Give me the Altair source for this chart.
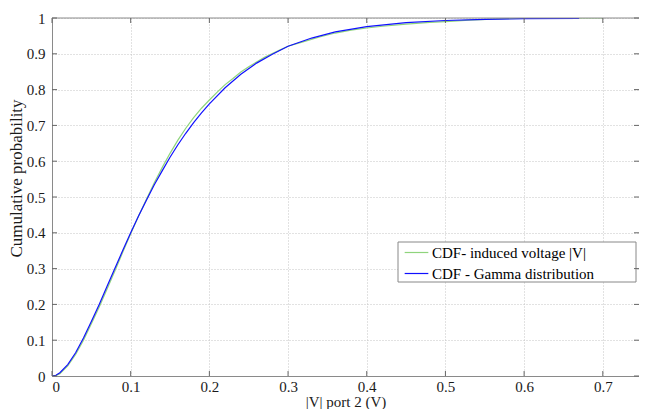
import altair as alt
import pandas as pd

# ---- data ----
x_emp = [0, 0.005, 0.01, 0.02, 0.03, 0.04, 0.05, 0.06, 0.07, 0.08, 0.09, 0.10,
         0.11, 0.12, 0.13, 0.14, 0.15, 0.16, 0.17, 0.18, 0.19, 0.20, 0.21, 0.22,
         0.23, 0.24, 0.25, 0.26, 0.27, 0.28, 0.29, 0.30, 0.32, 0.34, 0.36, 0.38,
         0.40, 0.42, 0.45, 0.48, 0.50, 0.53, 0.56, 0.60, 0.65, 0.70]
p_emp = [0, 0.001, 0.006, 0.028, 0.060, 0.100, 0.146, 0.193, 0.243, 0.294, 0.346, 0.397,
         0.447, 0.494, 0.540, 0.582, 0.622, 0.659, 0.692, 0.722, 0.748, 0.771, 0.793, 0.814,
         0.831, 0.849, 0.864, 0.877, 0.890, 0.901, 0.911, 0.921, 0.934, 0.947, 0.958, 0.966,
         0.972, 0.977, 0.983, 0.988, 0.990, 0.994, 0.997, 0.999, 1.0, 1.0]

x_gam = [0, 0.005, 0.01, 0.02, 0.03, 0.04, 0.05, 0.06, 0.07, 0.08, 0.09, 0.10,
         0.11, 0.12, 0.13, 0.14, 0.15, 0.16, 0.17, 0.18, 0.19, 0.20, 0.22, 0.24,
         0.26, 0.28, 0.30, 0.33, 0.36, 0.40, 0.45, 0.50, 0.55, 0.60, 0.67]
p_gam = [0, 0.002, 0.009, 0.032, 0.065, 0.106, 0.152, 0.200, 0.251, 0.301, 0.351, 0.400,
         0.447, 0.491, 0.534, 0.573, 0.611, 0.646, 0.678, 0.708, 0.735, 0.760, 0.805, 0.843,
         0.874, 0.899, 0.921, 0.944, 0.961, 0.976, 0.987, 0.993, 0.996, 0.998, 0.999]

series_names = ["CDF- induced voltage |V|", "CDF - Gamma distribution"]
series_colors = ["#8fd47c", "#1010ff"]

x_ticks = [0, 0.1, 0.2, 0.3, 0.4, 0.5, 0.6, 0.7]
y_ticks = [0, 0.1, 0.2, 0.3, 0.4, 0.5, 0.6, 0.7, 0.8, 0.9, 1]
x_domain = [0, 0.746]
y_domain = [0, 1]

x_title = "|V| port 2 (V)"
y_title = "Cumulative probability"

# ---- layout ----
W, H = 587, 358
FONT = "Liberation Serif"
AXIS_GRAY = "#8a8a8a"
TEXT = "#1a1a1a"
TICK = 5
LEG_BOX = (346, 584, 224, 264)  # legend frame in plot pixels

rows = []
i = 0
for xv, pv in zip(x_emp, p_emp):
    rows.append({"x": xv, "p": pv, "series": series_names[0], "i": i}); i += 1
for xv, pv in zip(x_gam, p_gam):
    rows.append({"x": xv, "p": pv, "series": series_names[1], "i": i}); i += 1
df = pd.DataFrame(rows)

xscale = alt.Scale(domain=x_domain, nice=False, zero=False)
yscale = alt.Scale(domain=y_domain, nice=False, zero=False)

common_axis = dict(grid=True, tickSize=0, labelOverlap=False,
                   domainColor=AXIS_GRAY, domainWidth=1,
                   gridColor="#c4c4c4", gridDash=[1, 2], gridWidth=1,
                   labelFont=FONT, labelFontSize=15, labelColor=TEXT,
                   titleFont=FONT, titleColor=TEXT, titleFontWeight="normal")

X_ENC = alt.X("x:Q", scale=xscale,
              axis=alt.Axis(values=x_ticks, format="~g", title=x_title,
                            labelPadding=3, titleY=18, titleBaseline="top",
                            titleFontSize=15, **common_axis))
Y_ENC = alt.Y("p:Q", scale=yscale,
              axis=alt.Axis(values=y_ticks, format="~g", title=y_title,
                            labelPadding=7, titlePadding=1, titleFontSize=17,
                            titleY=160, **common_axis))

lines = alt.Chart(df).mark_line(strokeWidth=1.2, clip=True).encode(
    x=X_ENC,
    y=Y_ENC,
    color=alt.Color("series:N",
                    scale=alt.Scale(domain=series_names, range=series_colors),
                    legend=alt.Legend(orient="none", legendX=348, legendY=218,
                                      title=None,
                                      strokeColor="transparent", fillColor="transparent",
                                      padding=4, symbolType="stroke",
                                      symbolSize=560, symbolStrokeWidth=1.2,
                                      labelFont=FONT, labelFontSize=15,
                                      labelColor="black", labelLimit=400,
                                      rowPadding=-6, labelOffset=3)),
    order=alt.Order("i:Q"),
)

tick_df_x = pd.DataFrame({"x": x_ticks})
tick_df_y = pd.DataFrame({"p": y_ticks})
one = pd.DataFrame({"k": [0]})

legend_frame = alt.Chart(one).mark_rect(fill="white", stroke="#888888", strokeWidth=1).encode(
    x=alt.value(LEG_BOX[0]), x2=alt.value(LEG_BOX[1]),
    y=alt.value(LEG_BOX[2]), y2=alt.value(LEG_BOX[3]))

xt_bottom = alt.Chart(tick_df_x).mark_rule(color="#666", strokeWidth=1).encode(
    x=X_ENC, y=alt.value(H), y2=alt.value(H - TICK))
xt_top = alt.Chart(tick_df_x).mark_rule(color="#666", strokeWidth=1).encode(
    x=X_ENC, y=alt.value(0), y2=alt.value(TICK))
yt_left = alt.Chart(tick_df_y).mark_rule(color="#666", strokeWidth=1).encode(
    y=Y_ENC, x=alt.value(0), x2=alt.value(TICK))
yt_right = alt.Chart(tick_df_y).mark_rule(color="#666", strokeWidth=1).encode(
    y=Y_ENC, x=alt.value(W - TICK), x2=alt.value(W))
top_border = alt.Chart(one).mark_rule(color=AXIS_GRAY, strokeWidth=1).encode(
    x=alt.value(0), x2=alt.value(W), y=alt.value(0))

chart = alt.layer(lines, legend_frame, top_border, xt_bottom, xt_top, yt_left, yt_right).properties(
    width=W, height=H,
    autosize=alt.AutoSizeParams(type="none"),
    padding={"left": 44, "top": 10, "right": 0, "bottom": 33},
    background="white",
).configure_view(stroke=None)

chart.save("out.html", embed_options={"renderer": "svg", "actions": False})
